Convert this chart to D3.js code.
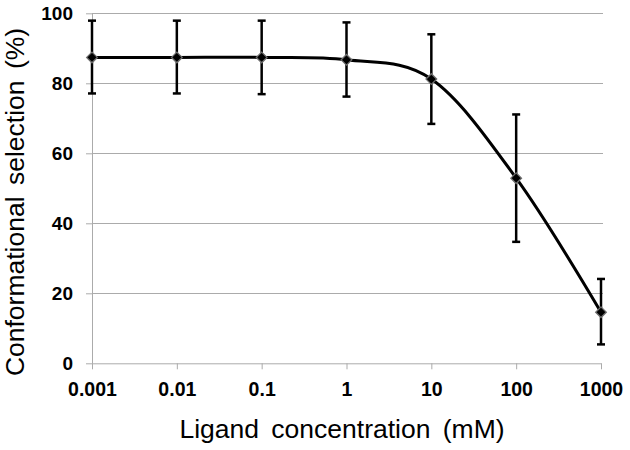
<!DOCTYPE html>
<html>
<head>
<meta charset="utf-8">
<script src="https://cdn.jsdelivr.net/npm/d3@7"></script>
<style>
  html, body { margin: 0; padding: 0; background: #fff; }
  svg { display: block; }
</style>
</head>
<body>
<svg id="chart" width="630" height="450"></svg>
<script>
// Data
const concentrations = [0.001, 0.01, 0.1, 1, 10, 100, 1000];
const selection = [87.4, 87.4, 87.4, 86.7, 81.2, 52.9, 14.6];
const errUpper = [97.9, 97.9, 97.9, 97.4, 94.0, 71.1, 24.1];
const errLower = [77.1, 77.1, 76.9, 76.2, 68.4, 34.7, 5.4];
const xTickLabels = ["0.001", "0.01", "0.1", "1", "10", "100", "1000"];
const yTicks = [0, 20, 40, 60, 80, 100];

const svg = d3.select("#chart");
const plotLeft = 92, plotRight = 601, plotTop = 13.3, plotBottom = 363.3;

const x = d3.scaleLog().domain([0.001, 1000]).range([plotLeft, plotRight]);
const y = d3.scaleLinear().domain([0, 100]).range([plotBottom, plotTop]);

const gridColor = "#ababab";
const font = "'Liberation Sans', Arial, sans-serif";

// gridlines
svg.append("g").selectAll("line")
  .data(yTicks.filter(d => d > 0))
  .join("line")
  .attr("x1", plotLeft).attr("x2", plotRight + 2)
  .attr("y1", d => Math.round(y(d)) + 0.5).attr("y2", d => Math.round(y(d)) + 0.5)
  .attr("stroke", gridColor).attr("stroke-width", 1);

// y axis
const yAxis = d3.axisLeft(y).tickValues(yTicks).tickSize(6).tickPadding(13).tickSizeOuter(0);
const gy = svg.append("g").attr("transform", `translate(${plotLeft},0)`).call(yAxis);
gy.select(".domain").attr("stroke", gridColor);
gy.selectAll(".tick line").attr("stroke", gridColor);
gy.selectAll(".tick text")
  .attr("font-family", font).attr("font-weight", "bold").attr("font-size", "19px").attr("fill", "#000");

// x axis
const xAxis = d3.axisBottom(x).tickValues(concentrations)
  .tickFormat((d, i) => xTickLabels[i]).tickSize(6).tickPadding(12.5).tickSizeOuter(0);
const gx = svg.append("g").attr("transform", `translate(0,${plotBottom})`).call(xAxis);
gx.select(".domain").attr("stroke", gridColor);
gx.selectAll(".tick line").attr("stroke", gridColor);
gx.selectAll(".tick text")
  .attr("font-family", font).attr("font-weight", "bold").attr("font-size", "19.5px").attr("fill", "#000");

// error bars
const eb = svg.append("g").attr("stroke", "#000").attr("stroke-width", 2.5);
eb.selectAll("line.v").data(concentrations).join("line").attr("class", "v")
  .attr("x1", d => x(d)).attr("x2", d => x(d))
  .attr("y1", (d, i) => y(errUpper[i])).attr("y2", (d, i) => y(errLower[i]));
eb.selectAll("line.t").data(concentrations).join("line").attr("class", "t")
  .attr("x1", d => x(d) - 4).attr("x2", d => x(d) + 4)
  .attr("y1", (d, i) => y(errUpper[i])).attr("y2", (d, i) => y(errUpper[i]));
eb.selectAll("line.b").data(concentrations).join("line").attr("class", "b")
  .attr("x1", d => x(d) - 4).attr("x2", d => x(d) + 4)
  .attr("y1", (d, i) => y(errLower[i])).attr("y2", (d, i) => y(errLower[i]));

// smooth line
const line = d3.line()
  .x((d, i) => x(concentrations[i]))
  .y(d => y(d))
  .curve(d3.curveCardinal.tension(0));
svg.append("path").datum(selection)
  .attr("d", line).attr("fill", "none").attr("stroke", "#000").attr("stroke-width", 3);

// markers
svg.append("g").selectAll("path").data(selection).join("path")
  .attr("transform", (d, i) => `translate(${x(concentrations[i])},${y(d)})`)
  .attr("d", d3.symbol().type(d3.symbolDiamond2).size(72))
  .attr("fill", "#000").attr("stroke", "#6e6e6e").attr("stroke-width", 1.3);

// axis titles
svg.append("text")
  .attr("x", 342).attr("y", 437.7)
  .attr("text-anchor", "middle")
  .attr("font-family", font).attr("font-size", "26.5px").attr("word-spacing", "5px").attr("fill", "#000")
  .text("Ligand concentration (mM)");

svg.append("text")
  .attr("transform", "translate(24,202) rotate(-90)")
  .attr("text-anchor", "middle")
  .attr("font-family", font).attr("font-size", "26.5px").attr("word-spacing", "4px").attr("fill", "#000")
  .text("Conformational selection (%)");
</script>
</body>
</html>
